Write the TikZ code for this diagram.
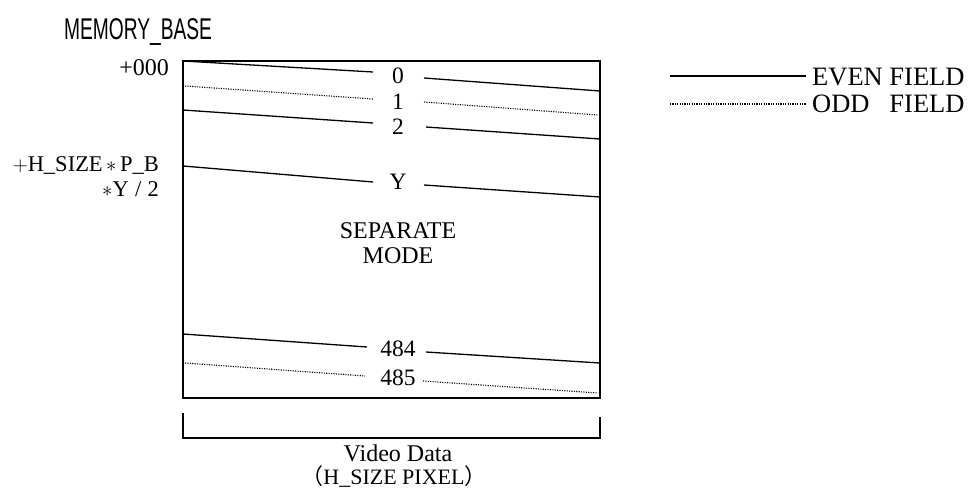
\documentclass[tikz,border=0pt]{standalone}
\usepackage{fontspec}
\setmainfont{Liberation Serif}
\setsansfont{Liberation Sans}
\newfontfamily\cjk{Noto Sans CJK JP}
\begin{document}
\begin{tikzpicture}[x=1pt,y=-1pt,
  even/.style={line width=1.3pt},
  odd/.style={line width=1.1pt,dash pattern=on 1.1pt off 1.3pt},
  frame/.style={line width=1.5pt},
  lbl/.style={inner sep=0pt,font=\fontsize{23.5}{27}\selectfont},
  txt/.style={inner sep=0pt,font=\fontsize{24}{25}\selectfont,align=center},
  leg/.style={inner sep=0pt,anchor=west,font=\fontsize{26.5}{30}\selectfont}]
\useasboundingbox (0,0) rectangle (970,488);
% title
\node[inner sep=0pt,font=\sffamily\fontsize{30}{32}\selectfont,xscale=0.64] (mb) at (138,32) {MEMORY\_BASE};
% frame
\draw[frame] (183,61) rectangle (600,398);
% offsets
\node[txt,anchor=east] (o0) at (169,68) {+000};
\node[inner sep=0pt,anchor=east,align=right,font=\fontsize{22.5}{25}\selectfont] (oy) at (159,177) {$+$H\_SIZE$\,\ast\,$P\_B\\$\ast$Y\;/\;2};
% line labels
\node[lbl] (l0) at (398,76) {0};
\node[lbl] (l1) at (398,102) {1};
\node[lbl] (l2) at (398,127) {2};
\node[lbl] (lY) at (398,182) {Y};
\node[lbl] (l484) at (398,349) {484};
\node[lbl] (l485) at (398,378) {485};
% endpoints
\coordinate (a0) at (183,61);  \coordinate (b0) at (373,72);  \coordinate (c0) at (424,78);  \coordinate (d0) at (600,91);
\coordinate (a1) at (185,86);  \coordinate (b1) at (373,99);  \coordinate (c1) at (424,102); \coordinate (d1) at (598,115);
\coordinate (a2) at (183,110); \coordinate (b2) at (373,123); \coordinate (c2) at (426,127); \coordinate (d2) at (600,139);
\coordinate (aY) at (183,166); \coordinate (bY) at (373,182); \coordinate (cY) at (424,185); \coordinate (dY) at (600,197);
\coordinate (a4) at (183,334); \coordinate (b4) at (367,347); \coordinate (c4) at (426,352); \coordinate (d4) at (600,363);
\coordinate (a5) at (185,363); \coordinate (b5) at (365,376); \coordinate (c5) at (423,381); \coordinate (d5) at (598,393);
\draw[even] (a0) -- (b0) (c0) -- (d0);
\draw[odd] (a1) -- (b1) (c1) -- (d1);
\draw[even] (a2) -- (b2) (c2) -- (d2);
\draw[even] (aY) -- (bY) (cY) -- (dY);
\draw[even] (a4) -- (b4) (c4) -- (d4);
\draw[odd] (a5) -- (b5) (c5) -- (d5);
% center text
\node[txt] (mode) at (398,243) {SEPARATE\\MODE};
% bracket
\coordinate (k1) at (183,413); \coordinate (k2) at (183,438);
\coordinate (k3) at (600,438); \coordinate (k4) at (600,417);
\draw[frame] (k1) -- (k2) -- (k3) -- (k4);
\node[txt] (vd) at (398,453) {Video Data};
\node[inner sep=0pt,font=\fontsize{22}{24}\selectfont] (hs) at (394,476.5) {{\cjk （}H\_SIZE PIXEL{\cjk ）}};
% legend
\coordinate (e1) at (670,76); \coordinate (e2) at (806,76);
\coordinate (f1) at (670,104); \coordinate (f2) at (806,104);
\draw[even] (e1) -- (e2);
\draw[odd] (f1) -- (f2);
\node[leg] (ev) at (812,77) {EVEN FIELD};
\node[leg] (od) at (812,104) {\rlap{ODD}\phantom{EVEN }FIELD};
\end{tikzpicture}
\end{document}
